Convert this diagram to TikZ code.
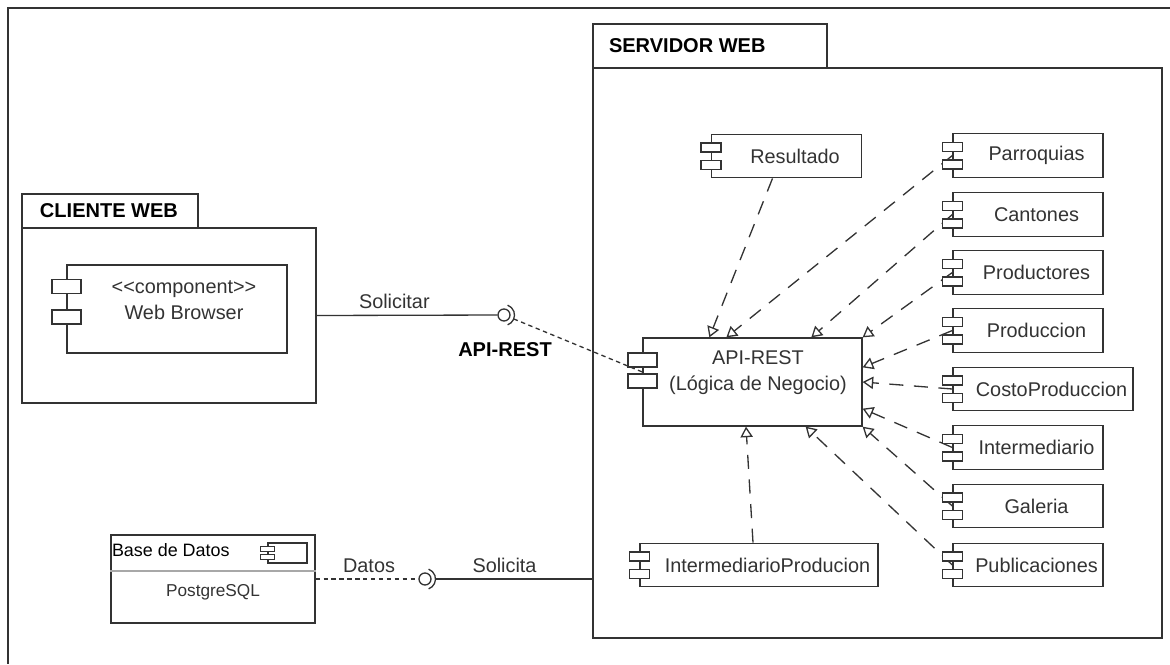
\documentclass[tikz,border=0pt]{standalone}
\usepackage{fontspec}
\setmainfont{Liberation Sans}
\usetikzlibrary{arrows.meta, fit}
\definecolor{ink}{HTML}{333333}
\definecolor{sepgray}{HTML}{A8A8A8}

\begin{document}
\begin{tikzpicture}[x=0.02cm, y=-0.02cm, line width=0.75pt, color=ink,
		every node/.style={text=ink, font=\fontsize{11.3}{14.8}\selectfont},
		pkg/.style={draw, inner sep=0pt},
		pkgname/.style={anchor=west, inner sep=0pt, text=black, font=\fontsize{11.4}{13}\selectfont\bfseries},
		comp/.style={draw, fill=white, minimum width=3cm, minimum height=0.87cm, inner sep=0pt, execute at begin node=\hspace*{0.34cm}},
		bigcomp/.style={draw, fill=white, minimum width=4.4cm, minimum height=1.76cm, inner sep=0pt},
		port/.style={draw, fill=white, minimum width=0.4cm, minimum height=0.18cm, inner sep=0pt},
		bigport/.style={draw, fill=white, minimum width=0.58cm, minimum height=0.28cm, inner sep=0pt},
		dep/.style={dash pattern=on 8pt off 6pt, -{Triangle[open, length=6pt, width=7pt]}},
		dotline/.style={dash pattern=on 2.5pt off 2pt}]
			\useasboundingbox (0,0) rectangle (1170,664);
			
			% Outer frame
			\draw[line width=1.2pt] (1170,8) -- (8,8) -- (8,664);
			
			% Packages
			\node[pkg, fit={(22,194) (198,228)}] (clitab) {};
			\node[pkg, fit={(22,228) (316,403)}] (cli) {};
			\node[pkgname] (clitxt) at ([xshift=0.36cm]clitab.west) {CLIENTE WEB};
			\node[pkg, fit={(593,24) (827,68)}] (srvtab) {};
			\node[pkg, fit={(593,68) (1162,638)}] (srv) {};
			\node[pkgname] (srvtxt) at ([xshift=0.32cm]srvtab.west) {SERVIDOR WEB};
			
			% Web browser
			\node[bigcomp] (web) at (177,309)
				[label={[align=center, xshift=0.14cm, yshift=0.18cm]center:<\kern0pt<component>\kern0pt>\\Web Browser}] {};
			\node[bigport] (web-p1) at ([yshift=0.45cm]web.west) {};
			\node[bigport] (web-p2) at ([yshift=-0.16cm]web.west) {};
			
			% API-REST
			\node[bigcomp, minimum width=4.38cm] (api) at (752.5,382)
				[label={[align=center, xshift=0.11cm, yshift=0.18cm]center:API-REST\\(Lógica de Negocio)}] {};
			\node[bigport] (api-p1) at ([yshift=0.44cm]api.west) {};
			\node[bigport] (api-p2) at ([yshift=0.02cm]api.west) {};
			
			% Components of the server
			\node[comp] (res) at (786.5,156) {Resultado};
			\node[comp] (par) at (1028,155.5) {Parroquias};
			\node[comp] (can) at (1028,214.5) {Cantones};
			\node[comp] (pto) at (1028,272.5) {Productores};
			\node[comp] (pcn) at (1028,330.5) {Produccion};
			\node[comp, minimum width=3.6cm] (cst) at (1043,389) {CostoProduccion};
			\node[comp] (itm) at (1028,447.5) {Intermediario};
			\node[comp] (gal) at (1028,506) {Galeria};
			\node[comp] (pub) at (1028,565) {Publicaciones};
			\node[comp, minimum width=4.76cm] (ipr) at (759,565) {IntermediarioProducion};
			
			% Dependencies towards API-REST
			\draw[dep] ([xshift=-0.28cm]res.south) -- ([xshift=1.34cm]api.north west);
			\draw[dep] ([xshift=-0.12cm]ipr.north) -- ([xshift=-0.13cm]api.south);
			\foreach \c/\a/\dx/\dy in {par/north west/1.68cm/0cm, can/north west/3.38cm/0cm,
				pto/north east/0cm/0cm, pcn/north east/0cm/-0.6cm, cst/east/0cm/0cm,
				itm/south east/0cm/0.36cm, gal/south east/0cm/0cm, pub/south east/-1.14cm/0cm} {
				\draw[dep] (\c.west) -- ([xshift=\dx, yshift=\dy]api.\a);
			}
			
			% Ports on the left side of each component
			\foreach \c in {res,par,can,pto,pcn,cst,itm,gal,pub,ipr} {
				\node[port] (\c-p1) at ([yshift=0.17cm]\c.west) {};
				\node[port] (\c-p2) at ([yshift=-0.18cm]\c.west) {};
			}
			
			% Interface API-REST
			\node[draw, circle, minimum size=0.24cm, inner sep=0pt] (ifc) at (504,315) {};
			\draw (ifc.center) ++(-70:0.21cm) arc[start angle=-70, end angle=70, radius=0.21cm];
			\coordinate (sk1) at ([shift={(-22:0.21cm)}]ifc.center);
			\node[pkgname, anchor=center] (ifctxt) at (505,350) {API-REST};
			\draw (cli.east) -- node[pos=.43, above] (lsolr) {Solicitar} (ifc.west);
			\draw[dotline] (sk1) -- ([yshift=0.2cm]api.west);
			
			% Database
			\node[draw, minimum width=4.08cm, minimum height=1.76cm, inner sep=0pt] (db) at (213,579) {};
			\draw[sepgray] ([yshift=0.16cm]db.west) -- ([yshift=0.16cm]db.east);
			\node[anchor=west, inner sep=0pt, text=black, font=\fontsize{10.2}{12}\selectfont] (dbtxt) at ([xshift=0.02cm, yshift=-0.32cm]db.north west) {Base de Datos};
			\node[font=\fontsize{9.8}{12}\selectfont] (pgsql) at ([yshift=-0.26cm]db.center) {PostgreSQL};
			\node[draw, line width=0.6pt, minimum width=0.78cm, minimum height=0.4cm, inner sep=0pt] (dbi) at (287.5,553) {};
			\node[draw, fill=white, line width=0.6pt, minimum width=0.28cm, minimum height=0.1cm, inner sep=0pt] (dbi-p1) at ([yshift=0.08cm]dbi.west) {};
			\node[draw, fill=white, line width=0.6pt, minimum width=0.28cm, minimum height=0.1cm, inner sep=0pt] (dbi-p2) at ([yshift=-0.08cm]dbi.west) {};
			
			% Interface Datos
			\node[draw, circle, minimum size=0.24cm, inner sep=0pt] (dat) at (425,579) {};
			\draw (dat.center) ++(-70:0.21cm) arc[start angle=-70, end angle=70, radius=0.21cm];
			\coordinate (sk2) at ([xshift=0.21cm]dat.center);
			\draw[dotline] (db.east) -- node[pos=.52, above] (ldat) {Datos} (dat.west);
			\draw (sk2) -- node[pos=.44, above] (lsola) {Solicita} (sk2 -| srv.west);
		\end{tikzpicture}
\end{document}
